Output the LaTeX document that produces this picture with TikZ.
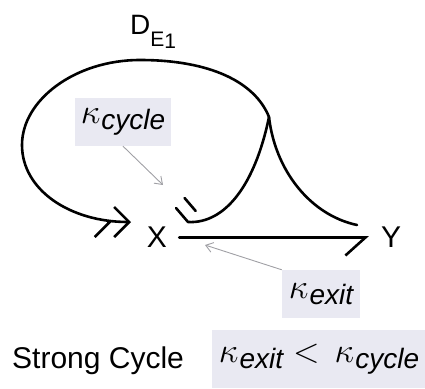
\documentclass[tikz,border=0pt]{standalone}
\usepackage{fontspec}
\setmainfont{Liberation Sans}
\usepackage{tikz}
\usetikzlibrary{arrows.meta,positioning}
\definecolor{kbg}{RGB}{233,233,242}
\definecolor{kline}{RGB}{160,160,165}
\newcommand{\kap}[1]{\scalebox{1.4}{$\kappa$}\kern1pt\raisebox{-6pt}{\itshape #1}}
% short stroke beside the end of a line
\pgfdeclarearrow{
  name=Twin,
  parameters={\the\pgfarrowlength,\the\pgfarrowwidth},
  setup code={
    \pgfarrowssettipend{0pt}
    \pgfarrowssetlineend{0pt}
    \pgfarrowssetbackend{-\pgfarrowlength}
    \pgfarrowssavethe\pgfarrowlength
    \pgfarrowssavethe\pgfarrowwidth
  },
  drawing code={
    \pgfsetroundcap
    \pgfpathmoveto{\pgfqpoint{2pt}{-\pgfarrowwidth}}
    \pgfpathlineto{\pgfqpoint{-\pgfarrowlength}{-\pgfarrowwidth}}
    \pgfusepathqstroke
  },
  defaults={length=15pt,width=13pt}
}

\begin{document}
\begin{tikzpicture}[x=1pt, y=-1pt,
  species/.style={font=\fontsize{30}{36}\selectfont, inner sep=12pt},
  kbox/.style={fill=kbg, font=\fontsize{28}{34}\selectfont, inner sep=6pt,
    minimum height=48pt},
  edge/.style={line width=2.6pt, line cap=round, line join=round},
  note/.style={draw=kline, line width=0.9pt,
    -{Straight Barb[length=7pt,width=10pt]}}]
  \useasboundingbox (0,0) rectangle (425,388);
  % species and cycle
  \node[species] (X) at (157,237.5) {X};
  \node[species] (Y) at (391,237.5) {Y};
  \node[font=\fontsize{28}{34}\selectfont, inner sep=0pt] (D) at (153,32)
    {D\raisebox{-12pt}{\fontsize{21}{24}\selectfont E\raisebox{-2pt}{1}}};
  \coordinate (cusp) at (269,117);
  \coordinate (xin) at (131,222);
  \coordinate (inh) at (176,208);
  \coordinate (yin) at (357,225);
  \draw[edge, -{Straight Barb[harpoon,swap,length=15pt,width=30pt]Straight Barb[length=15pt,width=30pt]}]
    (cusp) .. controls (255,82) and (210,60) .. (140,60)
    .. controls (75,60) and (22,100) .. (22,145)
    .. controls (22,190) and (70,222) .. (xin);
  \draw[edge, -{Twin}]
    (cusp) .. controls (255,185) and (225,224) .. (188,222) -- (inh);
  \draw[edge] (cusp) .. controls (275,170) and (310,215) .. (yin);
  \draw[edge, -{Straight Barb[harpoon,swap,length=20pt,width=36pt]}] (X) -- (Y);
  % rates
  \node[kbox] (kcyc) at (123,122) {\kap{cycle}};
  \node[kbox, minimum width=78pt] (kexit) at (321,294) {\kap{exit}};
  \coordinate (kcycT) at (163,185);
  \coordinate (kexitT) at (205,245);
  \draw[note] (kcyc.south) -- (kcycT);
  \draw[note] (kexit.north west) -- (kexitT);
  % condition
  \node[font=\fontsize{30}{36}\selectfont, anchor=base west, inner sep=0pt]
    (strong) at (12,368) {Strong Cycle};
  \node[kbox, minimum width=214pt, minimum height=58pt] (cond) at (319,359)
    {\kap{exit}\hspace{10pt}\scalebox{1.4}{$<$}\hspace{15pt}\kap{cycle}};
\end{tikzpicture}
\end{document}
